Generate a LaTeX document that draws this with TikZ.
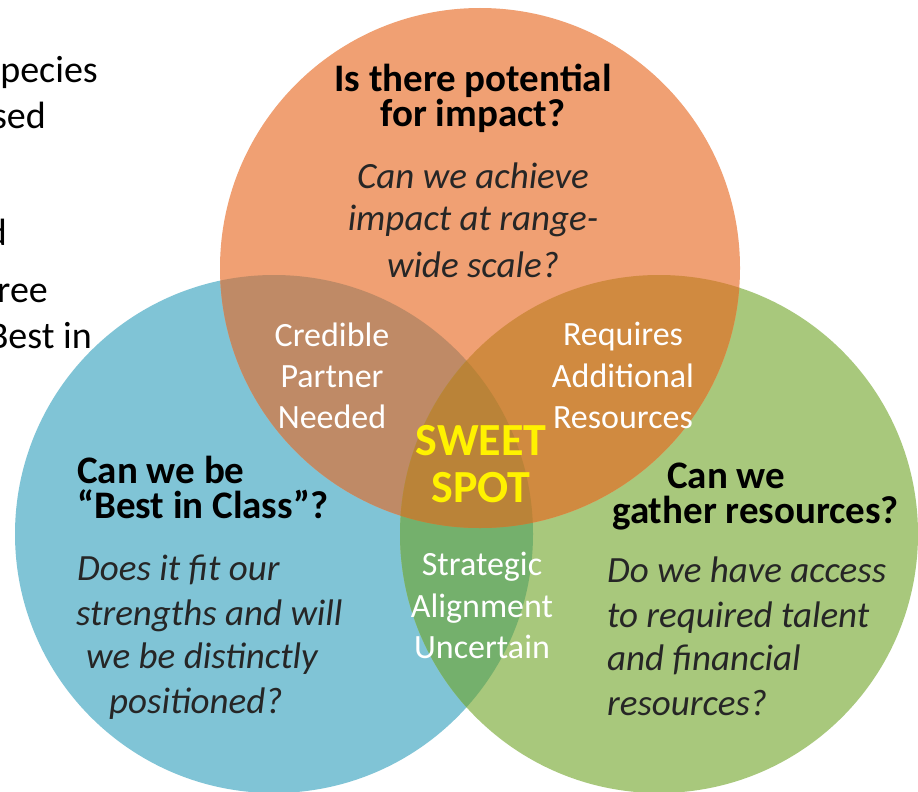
\documentclass[tikz,border=0pt]{standalone}
\usepackage{fontspec}
\setmainfont{Carlito}
\usepackage{tikz}

\definecolor{impactcol}{RGB}{240,160,115}
\definecolor{classcol}{RGB}{128,196,214}
\definecolor{gathercol}{RGB}{168,200,124}
\definecolor{partnercol}{RGB}{191,138,102}
\definecolor{extracol}{RGB}{208,138,64}
\definecolor{alignedcol}{RGB}{116,176,108}
\definecolor{sweetcol}{RGB}{186,131,56}
\definecolor{askcol}{RGB}{38,38,38}

\begin{document}
\begin{tikzpicture}[x=1pt,y=-1pt,
  question/.style={font=\fontsize{39}{39}\selectfont\bfseries, inner sep=0pt},
  ask/.style={font=\fontsize{37}{37}\selectfont\itshape, text=askcol, inner sep=0pt},
  overlap/.style={font=\fontsize{34}{34}\selectfont, text=white, inner sep=0pt},
  slide/.style={font=\fontsize{38}{38}\selectfont, inner sep=0pt, anchor=base east}]
\clip (0,0) rectangle (918,792);
\fill[white] (0,0) rectangle (918,792);

\coordinate (impact) at (480,268);
\coordinate (class) at (274,534);
\coordinate (gather) at (659,534);

% the three circles
\fill[classcol] (class) circle (259);
\fill[gathercol] (gather) circle (259);
\fill[impactcol] (impact) circle (260);

% overlaps
\begin{scope}
\clip (class) circle (259);
\fill[partnercol] (impact) circle (260);
\fill[alignedcol] (gather) circle (259);
\end{scope}
\begin{scope}
\clip (gather) circle (259);
\fill[extracol] (impact) circle (260);
\clip (class) circle (259);
\fill[sweetcol] (impact) circle (260);
\end{scope}

% slide text behind, cut off at the left
\foreach \x/\y/\txt [count=\i] in {98/82/pecies, 46/128/sed, 7/245/d, 48/302/ree, 92/348/Best in}
  \node[slide] (slide\i) at (\x,\y) {\txt};

% top circle
\foreach \y/\txt [count=\i] in {91/Is there potential, 126/for impact?}
  \node[question, anchor=base] (impactq\i) at (473,\y) {\txt};
\foreach \y/\txt [count=\i] in {188/Can we achieve, 230/impact at range-, 277/wide scale?}
  \node[ask, anchor=base] (impacta\i) at (473,\y) {\txt};

% left circle
\foreach \y/\txt [count=\i] in {483/Can we be, 518/“Best in Class”?}
  \node[question, anchor=base west] (classq\i) at (77,\y) {\txt};
\foreach \x/\y/\txt [count=\i] in {77/580/Does it fit our, 76/625/strengths and will, 86/668/we be distinctly, 109/713/positioned?}
  \node[ask, anchor=base west] (classa\i) at (\x,\y) {\txt};

% right circle
\foreach \x/\y/\txt [count=\i] in {667/488/Can we, 612/523/gather resources?}
  \node[question, anchor=base west] (gatherq\i) at (\x,\y) {\txt};
\foreach \y/\txt [count=\i] in {582/Do we have access, 627/to required talent, 670/and financial, 715/resources?}
  \node[ask, anchor=base west] (gathera\i) at (607,\y) {\txt};

% overlap labels
\foreach \y/\txt [count=\i] in {346/Credible, 387/Partner, 428/Needed}
  \node[overlap, anchor=base] (partner\i) at (332,\y) {\txt};
\foreach \y/\txt [count=\i] in {345/Requires, 387/Additional, 428/Resources}
  \node[overlap, anchor=base] (extra\i) at (623,\y) {\txt};
\foreach \y/\txt [count=\i] in {575/Strategic, 617/Alignment, 658/Uncertain}
  \node[overlap, anchor=base] (aligned\i) at (482,\y) {\txt};
\foreach \y/\txt [count=\i] in {455/SWEET, 502/SPOT}
  \node[font=\fontsize{46}{46}\selectfont\bfseries, text=yellow, inner sep=0pt, anchor=base] (sweet\i) at (481,\y) {\txt};

\end{tikzpicture}
\end{document}
